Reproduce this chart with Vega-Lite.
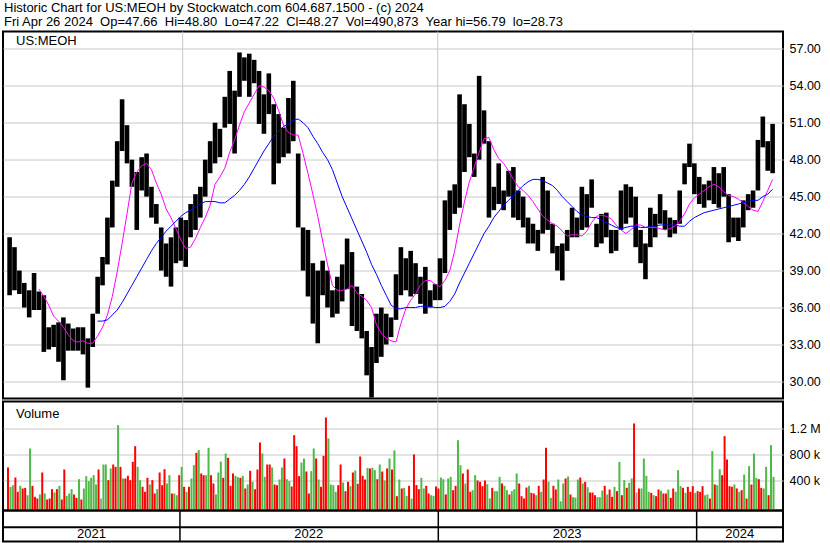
{
  "$schema": "https://vega.github.io/schema/vega-lite/v6.json",
  "padding": {"left": 1, "top": 1.5, "right": 0, "bottom": 0},
  "background": "white",
  "config": {
    "view": {"stroke": "black", "strokeWidth": 2},
    "font": "Liberation Sans",
    "axis": {"gridColor": "#c8c8c8", "gridWidth": 1, "domain": false, "ticks": false, "labelColor": "black", "labelFont": "Liberation Sans", "labelFontSize": 12.5, "title": null, "labelPadding": 6}
  },
  "title": {
    "text": ["Historic Chart for US:MEOH by Stockwatch.com 604.687.1500 - (c) 2024", "Fri Apr 26 2024\u00a0 Op=47.66\u00a0 Hi=48.80\u00a0 Lo=47.22\u00a0 Cl=48.27\u00a0 Vol=490,873\u00a0 Year hi=56.79\u00a0 lo=28.73"],
    "anchor": "start", "frame": "group", "baseline": "top", "fontSize": 13, "fontWeight": "normal", "font": "Liberation Sans", "lineHeight": 14, "offset": 1, "dx": 1, "color": "black"
  },
  "datasets": {
    "one": [{}],
    "bd": [{"date": "2022-01-01"}, {"date": "2023-01-01"}, {"date": "2024-01-01"}],
    "yr": [{"year": "2021", "mid": "2021-08-29"}, {"year": "2022", "mid": "2022-07-02"}, {"year": "2023", "mid": "2023-07-02"}, {"year": "2024", "mid": "2024-03-02"}],
    "w": [
      {"date":"2021-04-26","hi":41.7,"lo":37.0,"v1":600,"c1":"r","v2":300,"c2":"g"},
      {"date":"2021-05-03","hi":40.9,"lo":37.4,"v1":328,"c1":"g","v2":446,"c2":"r"},
      {"date":"2021-05-10","hi":39.0,"lo":37.1,"v1":226,"c1":"r","v2":318,"c2":"g"},
      {"date":"2021-05-17","hi":38.0,"lo":36.0,"v1":277,"c1":"r","v2":287,"c2":"r"},
      {"date":"2021-05-24","hi":37.4,"lo":35.2,"v1":174,"c1":"g","v2":892,"c2":"g"},
      {"date":"2021-05-31","hi":38.8,"lo":35.8,"v1":318,"c1":"r","v2":149,"c2":"r"},
      {"date":"2021-06-07","hi":37.3,"lo":35.8,"v1":123,"c1":"r","v2":185,"c2":"g","ma1":37.5},
      {"date":"2021-06-14","hi":37.0,"lo":32.4,"v1":523,"c1":"r","v2":200,"c2":"g","ma1":36.9},
      {"date":"2021-06-21","hi":34.4,"lo":32.6,"v1":108,"c1":"r","v2":123,"c2":"r","ma1":36.2},
      {"date":"2021-06-28","hi":34.6,"lo":32.8,"v1":267,"c1":"r","v2":215,"c2":"g","ma1":35.3},
      {"date":"2021-07-05","hi":34.8,"lo":31.6,"v1":267,"c1":"r","v2":318,"c2":"g","ma1":34.9},
      {"date":"2021-07-12","hi":35.2,"lo":30.1,"v1":108,"c1":"r","v2":569,"c2":"r","ma1":34.4},
      {"date":"2021-07-19","hi":34.7,"lo":32.5,"v1":164,"c1":"g","v2":200,"c2":"g","ma1":33.8},
      {"date":"2021-07-26","hi":34.3,"lo":32.5,"v1":267,"c1":"g","v2":185,"c2":"r","ma1":33.3},
      {"date":"2021-08-02","hi":34.4,"lo":32.5,"v1":133,"c1":"r","v2":420,"c2":"g","ma1":33.2},
      {"date":"2021-08-09","hi":34.4,"lo":32.2,"v1":108,"c1":"r","v2":277,"c2":"g","ma1":33.3},
      {"date":"2021-08-16","hi":33.5,"lo":29.5,"v1":467,"c1":"g","v2":390,"c2":"g","ma1":33.1},
      {"date":"2021-08-23","hi":35.5,"lo":32.8,"v1":441,"c1":"g","v2":482,"c2":"g","ma1":33.1},
      {"date":"2021-08-30","hi":38.5,"lo":35.5,"v1":338,"c1":"g","v2":569,"c2":"r","ma1":33.7,"ma2":34.9},
      {"date":"2021-09-06","hi":40.1,"lo":37.8,"v1":123,"c1":"n","v2":646,"c2":"g","ma1":34.4,"ma2":34.9},
      {"date":"2021-09-13","hi":43.3,"lo":39.5,"v1":646,"c1":"g","v2":405,"c2":"r","ma1":35.4,"ma2":35.0},
      {"date":"2021-09-20","hi":46.3,"lo":42.5,"v1":585,"c1":"g","v2":646,"c2":"r","ma1":36.9,"ma2":35.4},
      {"date":"2021-09-27","hi":49.5,"lo":45.8,"v1":610,"c1":"r","v2":1251,"c2":"g","ma1":38.9,"ma2":35.8},
      {"date":"2021-10-04","hi":52.9,"lo":48.7,"v1":610,"c1":"r","v2":431,"c2":"g","ma1":41.2,"ma2":36.4},
      {"date":"2021-10-11","hi":50.8,"lo":47.7,"v1":431,"c1":"r","v2":472,"c2":"r","ma1":43.6,"ma2":37.1},
      {"date":"2021-10-18","hi":48.0,"lo":45.8,"v1":405,"c1":"r","v2":687,"c2":"r","ma1":46.1,"ma2":37.8},
      {"date":"2021-10-25","hi":47.0,"lo":42.3,"v1":928,"c1":"r","v2":610,"c2":"g","ma1":47.0,"ma2":38.5},
      {"date":"2021-11-01","hi":48.2,"lo":45.5,"v1":405,"c1":"g","v2":303,"c2":"r","ma1":47.5,"ma2":39.2},
      {"date":"2021-11-08","hi":48.5,"lo":45.0,"v1":226,"c1":"r","v2":441,"c2":"r","ma1":47.7,"ma2":39.9},
      {"date":"2021-11-15","hi":45.8,"lo":43.3,"v1":338,"c1":"g","v2":405,"c2":"r","ma1":47.2,"ma2":40.6},
      {"date":"2021-11-22","hi":44.4,"lo":42.8,"v1":200,"c1":"r","v2":267,"c2":"g","ma1":46.1,"ma2":41.2},
      {"date":"2021-11-29","hi":42.5,"lo":39.0,"v1":523,"c1":"r","v2":328,"c2":"r","ma1":45.2,"ma2":41.7},
      {"date":"2021-12-06","hi":41.2,"lo":38.5,"v1":574,"c1":"r","v2":354,"c2":"g","ma1":44.0,"ma2":42.2},
      {"date":"2021-12-13","hi":41.7,"lo":37.7,"v1":482,"c1":"g","v2":200,"c2":"r","ma1":43.3,"ma2":42.6},
      {"date":"2021-12-20","hi":42.5,"lo":39.6,"v1":200,"c1":"g","v2":174,"c2":"g","ma1":42.4,"ma2":43.0},
      {"date":"2021-12-27","hi":43.3,"lo":39.8,"v1":482,"c1":"r","v2":610,"c2":"g","ma1":41.5,"ma2":43.4},
      {"date":"2022-01-03","hi":43.1,"lo":39.3,"v1":303,"c1":"r","v2":226,"c2":"g","ma1":40.8,"ma2":43.7},
      {"date":"2022-01-10","hi":44.4,"lo":41.7,"v1":303,"c1":"r","v2":431,"c2":"g","ma1":40.9,"ma2":43.9},
      {"date":"2022-01-17","hi":45.2,"lo":42.3,"v1":636,"c1":"g","v2":826,"c2":"r","ma1":41.6,"ma2":44.2},
      {"date":"2022-01-24","hi":45.8,"lo":43.3,"v1":867,"c1":"g","v2":508,"c2":"r","ma1":42.5,"ma2":44.4},
      {"date":"2022-01-31","hi":48.0,"lo":45.0,"v1":482,"c1":"r","v2":482,"c2":"g","ma1":43.3,"ma2":44.6},
      {"date":"2022-02-07","hi":49.5,"lo":46.9,"v1":903,"c1":"g","v2":482,"c2":"r","ma1":44.3,"ma2":44.6},
      {"date":"2022-02-14","hi":51.0,"lo":47.7,"v1":354,"c1":"r","v2":185,"c2":"g","ma1":46.0,"ma2":44.6},
      {"date":"2022-02-21","hi":50.5,"lo":48.2,"v1":523,"c1":"g","v2":692,"c2":"g","ma1":46.6,"ma2":44.5},
      {"date":"2022-02-28","hi":53.1,"lo":50.6,"v1":441,"c1":"r","v2":815,"c2":"g","ma1":47.3,"ma2":44.5},
      {"date":"2022-03-07","hi":55.2,"lo":50.9,"v1":749,"c1":"r","v2":318,"c2":"r","ma1":48.6,"ma2":44.8},
      {"date":"2022-03-14","hi":53.6,"lo":48.5,"v1":508,"c1":"r","v2":472,"c2":"g","ma1":49.6,"ma2":45.1},
      {"date":"2022-03-21","hi":56.7,"lo":53.1,"v1":451,"c1":"g","v2":441,"c2":"r","ma1":50.8,"ma2":45.5},
      {"date":"2022-03-28","hi":56.3,"lo":54.4,"v1":472,"c1":"g","v2":277,"c2":"r","ma1":51.9,"ma2":46.0},
      {"date":"2022-04-04","hi":56.6,"lo":53.1,"v1":338,"c1":"g","v2":549,"c2":"r","ma1":52.6,"ma2":46.6},
      {"date":"2022-04-11","hi":56.1,"lo":54.2,"v1":380,"c1":"g","v2":267,"c2":"r","ma1":53.3,"ma2":47.3},
      {"date":"2022-04-18","hi":55.2,"lo":50.9,"v1":569,"c1":"r","v2":985,"c2":"r","ma1":54.0,"ma2":48.0},
      {"date":"2022-04-25","hi":53.3,"lo":50.1,"v1":815,"c1":"g","v2":456,"c2":"g","ma1":53.9,"ma2":48.7},
      {"date":"2022-05-02","hi":55.0,"lo":51.7,"v1":646,"c1":"r","v2":646,"c2":"r","ma1":53.6,"ma2":49.3},
      {"date":"2022-05-09","hi":52.5,"lo":46.0,"v1":600,"c1":"g","v2":338,"c2":"r","ma1":53.0,"ma2":49.9},
      {"date":"2022-05-16","hi":51.7,"lo":47.7,"v1":328,"c1":"r","v2":415,"c2":"g","ma1":52.0,"ma2":50.3},
      {"date":"2022-05-23","hi":50.6,"lo":48.2,"v1":600,"c1":"g","v2":738,"c2":"r","ma1":50.8,"ma2":50.7},
      {"date":"2022-05-30","hi":53.0,"lo":48.5,"v1":420,"c1":"g","v2":390,"c2":"g","ma1":50.2,"ma2":50.9},
      {"date":"2022-06-06","hi":54.4,"lo":49.5,"v1":308,"c1":"r","v2":1097,"c2":"r","ma1":50.0,"ma2":51.2},
      {"date":"2022-06-13","hi":48.5,"lo":42.5,"v1":928,"c1":"r","v2":467,"c2":"r","ma1":50.0,"ma2":51.3},
      {"date":"2022-06-20","hi":42.5,"lo":39.0,"v1":677,"c1":"g","v2":738,"c2":"g","ma1":48.5,"ma2":51.0},
      {"date":"2022-06-27","hi":42.3,"lo":36.9,"v1":538,"c1":"r","v2":200,"c2":"r","ma1":46.9,"ma2":50.6},
      {"date":"2022-07-04","hi":39.6,"lo":34.7,"v1":544,"c1":"g","v2":892,"c2":"g","ma1":45.2,"ma2":49.9},
      {"date":"2022-07-11","hi":39.0,"lo":33.1,"v1":738,"c1":"r","v2":415,"c2":"g","ma1":43.4,"ma2":49.3},
      {"date":"2022-07-18","hi":39.8,"lo":37.0,"v1":303,"c1":"r","v2":779,"c2":"r","ma1":41.4,"ma2":48.6},
      {"date":"2022-07-25","hi":39.0,"lo":36.0,"v1":1369,"c1":"r","v2":1046,"c2":"g","ma1":39.5,"ma2":48.0},
      {"date":"2022-08-01","hi":37.4,"lo":35.2,"v1":338,"c1":"g","v2":328,"c2":"g","ma1":37.8,"ma2":47.2},
      {"date":"2022-08-08","hi":38.5,"lo":35.5,"v1":226,"c1":"g","v2":328,"c2":"r","ma1":37.4,"ma2":46.1},
      {"date":"2022-08-15","hi":39.5,"lo":36.5,"v1":646,"c1":"r","v2":369,"c2":"g","ma1":37.4,"ma2":45.0},
      {"date":"2022-08-22","hi":41.6,"lo":37.5,"v1":236,"c1":"r","v2":380,"c2":"r","ma1":37.5,"ma2":44.1},
      {"date":"2022-08-29","hi":40.5,"lo":34.5,"v1":313,"c1":"g","v2":523,"c2":"r","ma1":37.8,"ma2":43.2},
      {"date":"2022-09-05","hi":37.7,"lo":34.1,"v1":554,"c1":"g","v2":349,"c2":"r","ma1":37.2,"ma2":42.3},
      {"date":"2022-09-12","hi":37.1,"lo":33.5,"v1":769,"c1":"r","v2":472,"c2":"r","ma1":36.9,"ma2":41.4},
      {"date":"2022-09-19","hi":34.1,"lo":30.5,"v1":415,"c1":"r","v2":595,"c2":"g","ma1":36.6,"ma2":40.5},
      {"date":"2022-09-26","hi":32.8,"lo":28.7,"v1":585,"c1":"r","v2":595,"c2":"g","ma1":36.0,"ma2":39.5},
      {"date":"2022-10-03","hi":35.5,"lo":31.5,"v1":559,"c1":"g","v2":420,"c2":"r","ma1":34.6,"ma2":38.7},
      {"date":"2022-10-10","hi":36.0,"lo":32.0,"v1":646,"c1":"g","v2":538,"c2":"r","ma1":33.9,"ma2":37.8},
      {"date":"2022-10-17","hi":35.5,"lo":33.0,"v1":400,"c1":"g","v2":585,"c2":"r","ma1":33.5,"ma2":37.0},
      {"date":"2022-10-24","hi":35.2,"lo":33.6,"v1":738,"c1":"g","v2":569,"c2":"r","ma1":33.3,"ma2":36.2},
      {"date":"2022-10-31","hi":38.7,"lo":35.0,"v1":862,"c1":"g","v2":159,"c2":"r","ma1":33.2,"ma2":35.9},
      {"date":"2022-11-07","hi":40.9,"lo":37.0,"v1":415,"c1":"g","v2":277,"c2":"r","ma1":34.7,"ma2":35.9},
      {"date":"2022-11-14","hi":40.0,"lo":37.4,"v1":287,"c1":"g","v2":164,"c2":"g","ma1":35.9,"ma2":36.0},
      {"date":"2022-11-21","hi":40.6,"lo":36.9,"v1":318,"c1":"r","v2":120,"c2":"g","ma1":36.6,"ma2":36.0},
      {"date":"2022-11-28","hi":39.6,"lo":37.1,"v1":800,"c1":"r","v2":330,"c2":"r","ma1":37.1,"ma2":36.0},
      {"date":"2022-12-05","hi":38.5,"lo":36.3,"v1":267,"c1":"r","v2":441,"c2":"g","ma1":37.8,"ma2":36.1},
      {"date":"2022-12-12","hi":39.3,"lo":35.5,"v1":277,"c1":"g","v2":318,"c2":"r","ma1":38.2,"ma2":36.1},
      {"date":"2022-12-19","hi":37.4,"lo":36.0,"v1":200,"c1":"r","v2":174,"c2":"g","ma1":38.2,"ma2":36.1},
      {"date":"2022-12-26","hi":37.9,"lo":36.6,"v1":164,"c1":"g","v2":308,"c2":"r","ma1":37.9,"ma2":36.0},
      {"date":"2023-01-02","hi":40.0,"lo":36.6,"v1":277,"c1":"r","v2":446,"c2":"g","ma1":37.7,"ma2":36.0},
      {"date":"2023-01-09","hi":44.7,"lo":38.8,"v1":420,"c1":"g","v2":185,"c2":"r","ma1":38.2,"ma2":36.1},
      {"date":"2023-01-16","hi":45.5,"lo":42.3,"v1":431,"c1":"g","v2":456,"c2":"g","ma1":39.0,"ma2":36.5},
      {"date":"2023-01-23","hi":46.0,"lo":43.6,"v1":251,"c1":"r","v2":318,"c2":"r","ma1":40.6,"ma2":37.1},
      {"date":"2023-01-30","hi":53.3,"lo":44.1,"v1":1020,"c1":"g","v2":636,"c2":"g","ma1":42.7,"ma2":38.0},
      {"date":"2023-02-06","hi":52.5,"lo":47.0,"v1":508,"c1":"r","v2":354,"c2":"g","ma1":44.6,"ma2":38.8},
      {"date":"2023-02-13","hi":50.9,"lo":48.2,"v1":569,"c1":"r","v2":226,"c2":"r","ma1":46.2,"ma2":39.6},
      {"date":"2023-02-20","hi":48.5,"lo":46.6,"v1":251,"c1":"g","v2":482,"c2":"g","ma1":47.4,"ma2":40.4},
      {"date":"2023-02-27","hi":54.8,"lo":48.0,"v1":400,"c1":"r","v2":380,"c2":"r","ma1":48.6,"ma2":41.2},
      {"date":"2023-03-06","hi":52.0,"lo":49.3,"v1":313,"c1":"r","v2":400,"c2":"r","ma1":49.7,"ma2":42.0},
      {"date":"2023-03-13","hi":49.5,"lo":43.3,"v1":344,"c1":"g","v2":123,"c2":"g","ma1":49.8,"ma2":42.6},
      {"date":"2023-03-20","hi":45.8,"lo":43.9,"v1":287,"c1":"r","v2":236,"c2":"g","ma1":48.8,"ma2":43.3},
      {"date":"2023-03-27","hi":47.7,"lo":44.4,"v1":236,"c1":"g","v2":456,"c2":"g","ma1":48.1,"ma2":43.8},
      {"date":"2023-04-03","hi":45.5,"lo":43.9,"v1":354,"c1":"r","v2":318,"c2":"g","ma1":47.7,"ma2":44.3},
      {"date":"2023-04-10","hi":47.1,"lo":45.0,"v1":251,"c1":"g","v2":185,"c2":"r","ma1":47.1,"ma2":44.7},
      {"date":"2023-04-17","hi":47.4,"lo":43.3,"v1":236,"c1":"g","v2":267,"c2":"g","ma1":46.4,"ma2":45.1},
      {"date":"2023-04-24","hi":45.5,"lo":43.1,"v1":508,"c1":"g","v2":354,"c2":"r","ma1":45.8,"ma2":45.5},
      {"date":"2023-05-01","hi":45.0,"lo":42.5,"v1":159,"c1":"r","v2":123,"c2":"r","ma1":45.5,"ma2":45.9},
      {"date":"2023-05-08","hi":43.3,"lo":41.2,"v1":292,"c1":"r","v2":318,"c2":"g","ma1":45.1,"ma2":46.2},
      {"date":"2023-05-15","hi":42.8,"lo":41.2,"v1":210,"c1":"r","v2":200,"c2":"r","ma1":44.6,"ma2":46.4},
      {"date":"2023-05-22","hi":42.3,"lo":40.6,"v1":174,"c1":"g","v2":318,"c2":"r","ma1":44.0,"ma2":46.4},
      {"date":"2023-05-29","hi":46.6,"lo":42.0,"v1":226,"c1":"g","v2":415,"c2":"r","ma1":43.4,"ma2":46.3},
      {"date":"2023-06-05","hi":45.5,"lo":42.3,"v1":903,"c1":"r","v2":380,"c2":"g","ma1":43.1,"ma2":46.1},
      {"date":"2023-06-12","hi":42.8,"lo":40.4,"v1":133,"c1":"g","v2":318,"c2":"r","ma1":42.8,"ma2":45.9},
      {"date":"2023-06-19","hi":41.0,"lo":39.0,"v1":262,"c1":"r","v2":415,"c2":"g","ma1":42.6,"ma2":45.5},
      {"date":"2023-06-26","hi":41.2,"lo":38.2,"v1":80,"c1":"g","v2":354,"c2":"g","ma1":42.2,"ma2":45.0},
      {"date":"2023-07-03","hi":42.3,"lo":40.6,"v1":431,"c1":"r","v2":462,"c2":"g","ma1":41.8,"ma2":44.6},
      {"date":"2023-07-10","hi":44.1,"lo":41.7,"v1":185,"c1":"r","v2":144,"c2":"g","ma1":41.9,"ma2":44.2},
      {"date":"2023-07-17","hi":43.3,"lo":41.7,"v1":138,"c1":"g","v2":415,"c2":"g","ma1":41.9,"ma2":43.8},
      {"date":"2023-07-24","hi":45.8,"lo":42.3,"v1":446,"c1":"r","v2":354,"c2":"g","ma1":41.8,"ma2":43.5},
      {"date":"2023-07-31","hi":45.2,"lo":42.5,"v1":380,"c1":"r","v2":297,"c2":"g","ma1":42.2,"ma2":43.4},
      {"date":"2023-08-07","hi":46.4,"lo":44.1,"v1":215,"c1":"r","v2":215,"c2":"r","ma1":42.9,"ma2":43.3},
      {"date":"2023-08-14","hi":42.8,"lo":40.9,"v1":174,"c1":"r","v2":144,"c2":"g","ma1":43.4,"ma2":43.3},
      {"date":"2023-08-21","hi":43.6,"lo":41.2,"v1":144,"c1":"g","v2":246,"c2":"g","ma1":43.5,"ma2":43.1},
      {"date":"2023-08-28","hi":43.7,"lo":41.7,"v1":318,"c1":"r","v2":185,"c2":"g","ma1":43.4,"ma2":42.9},
      {"date":"2023-09-04","hi":42.3,"lo":40.4,"v1":262,"c1":"r","v2":149,"c2":"r","ma1":43.2,"ma2":42.7},
      {"date":"2023-09-11","hi":42.3,"lo":40.6,"v1":303,"c1":"g","v2":236,"c2":"r","ma1":42.7,"ma2":42.5},
      {"date":"2023-09-18","hi":45.5,"lo":42.3,"v1":687,"c1":"g","v2":174,"c2":"r","ma1":42.3,"ma2":42.4},
      {"date":"2023-09-25","hi":46.0,"lo":42.8,"v1":405,"c1":"g","v2":287,"c2":"r","ma1":42.0,"ma2":42.5},
      {"date":"2023-10-02","hi":45.8,"lo":43.3,"v1":364,"c1":"g","v2":431,"c2":"g","ma1":42.3,"ma2":42.6},
      {"date":"2023-10-09","hi":45.0,"lo":40.9,"v1":1277,"c1":"r","v2":215,"c2":"n","ma1":42.7,"ma2":42.6},
      {"date":"2023-10-16","hi":42.3,"lo":39.6,"v1":277,"c1":"r","v2":277,"c2":"g","ma1":42.7,"ma2":42.5},
      {"date":"2023-10-23","hi":41.2,"lo":38.3,"v1":738,"c1":"g","v2":472,"c2":"g","ma1":42.5,"ma2":42.5},
      {"date":"2023-10-30","hi":44.1,"lo":40.9,"v1":226,"c1":"g","v2":210,"c2":"r","ma1":42.5,"ma2":42.6},
      {"date":"2023-11-06","hi":43.6,"lo":41.7,"v1":174,"c1":"g","v2":159,"c2":"r","ma1":42.5,"ma2":42.6},
      {"date":"2023-11-13","hi":45.2,"lo":42.8,"v1":262,"c1":"r","v2":241,"c2":"g","ma1":42.4,"ma2":42.7},
      {"date":"2023-11-20","hi":43.9,"lo":42.3,"v1":200,"c1":"r","v2":200,"c2":"r","ma1":42.3,"ma2":42.7},
      {"date":"2023-11-27","hi":43.3,"lo":41.7,"v1":262,"c1":"g","v2":133,"c2":"r","ma1":42.4,"ma2":42.7},
      {"date":"2023-12-04","hi":43.1,"lo":42.0,"v1":277,"c1":"r","v2":226,"c2":"g","ma1":42.6,"ma2":42.7},
      {"date":"2023-12-11","hi":45.5,"lo":42.8,"v1":559,"c1":"g","v2":313,"c2":"g","ma1":43.0,"ma2":42.6},
      {"date":"2023-12-18","hi":47.7,"lo":46.0,"v1":287,"c1":"r","v2":210,"c2":"g","ma1":43.6,"ma2":42.6},
      {"date":"2023-12-25","hi":49.3,"lo":47.4,"v1":303,"c1":"r","v2":226,"c2":"r","ma1":44.4,"ma2":43.0},
      {"date":"2024-01-01","hi":47.7,"lo":45.2,"v1":313,"c1":"r","v2":210,"c2":"g","ma1":44.9,"ma2":43.3},
      {"date":"2024-01-08","hi":46.6,"lo":44.4,"v1":236,"c1":"r","v2":226,"c2":"r","ma1":45.2,"ma2":43.5},
      {"date":"2024-01-15","hi":46.0,"lo":44.1,"v1":313,"c1":"r","v2":174,"c2":"g","ma1":45.5,"ma2":43.7},
      {"date":"2024-01-22","hi":46.3,"lo":44.7,"v1":185,"c1":"g","v2":123,"c2":"r","ma1":45.8,"ma2":43.8},
      {"date":"2024-01-29","hi":47.4,"lo":44.4,"v1":851,"c1":"g","v2":338,"c2":"r","ma1":46.0,"ma2":43.9},
      {"date":"2024-02-05","hi":46.9,"lo":44.1,"v1":328,"c1":"g","v2":574,"c2":"g","ma1":45.8,"ma2":44.0},
      {"date":"2024-02-12","hi":47.4,"lo":45.0,"v1":482,"c1":"r","v2":1082,"c2":"r","ma1":45.4,"ma2":44.1},
      {"date":"2024-02-19","hi":45.2,"lo":41.3,"v1":723,"c1":"r","v2":313,"c2":"r","ma1":45.1,"ma2":44.2},
      {"date":"2024-02-26","hi":43.3,"lo":41.7,"v1":303,"c1":"r","v2":338,"c2":"g","ma1":45.0,"ma2":44.3},
      {"date":"2024-03-04","hi":43.3,"lo":41.4,"v1":277,"c1":"r","v2":226,"c2":"g","ma1":44.8,"ma2":44.4},
      {"date":"2024-03-11","hi":44.7,"lo":42.5,"v1":251,"c1":"r","v2":492,"c2":"g","ma1":44.5,"ma2":44.5},
      {"date":"2024-03-18","hi":45.2,"lo":43.9,"v1":123,"c1":"r","v2":621,"c2":"g","ma1":44.2,"ma2":44.6},
      {"date":"2024-03-25","hi":45.5,"lo":44.1,"v1":338,"c1":"r","v2":815,"c2":"g","ma1":43.9,"ma2":44.7},
      {"date":"2024-04-01","hi":49.6,"lo":45.5,"v1":441,"c1":"g","v2":420,"c2":"r","ma1":43.8,"ma2":44.7},
      {"date":"2024-04-08","hi":51.5,"lo":49.0,"v1":287,"c1":"r","v2":277,"c2":"g","ma1":44.6,"ma2":45.0},
      {"date":"2024-04-15","hi":49.5,"lo":47.1,"v1":610,"c1":"g","v2":174,"c2":"r","ma1":45.5,"ma2":45.2},
      {"date":"2024-04-22","hi":50.9,"lo":46.9,"v1":944,"c1":"g","v2":456,"c2":"g","ma1":46.4,"ma2":45.6}
    ]
  },
  "vconcat": [
    {
      "width": 780, "height": 367,
      "data": {"name": "w"},
      "layer": [
        {"data": {"name": "bd"}, "mark": {"type": "rule", "color": "#c8c8c8", "strokeWidth": 1},
         "encoding": {"x": {"field": "date", "type": "temporal", "axis": null, "scale": {"domain": [{"year": 2021, "month": 4, "date": 26, "utc": true}, {"year": 2024, "month": 5, "date": 2, "utc": true}]}}}},
        {"mark": {"type": "bar", "color": "black", "width": 4.6, "xOffset": 1.6},
         "encoding": {
           "x": {"field": "date", "type": "temporal", "axis": null},
           "y": {"field": "hi", "type": "quantitative", "scale": {"domain": [28.62, 58.4], "nice": false, "zero": false},
                 "axis": {"orient": "right", "values": [30, 31.5, 33, 34.5, 36, 37.5, 39, 40.5, 42, 43.5, 45, 46.5, 48, 49.5, 51, 52.5, 54, 55.5, 57], "format": ".2f", "grid": true, "labelOverlap": false}},
           "y2": {"field": "lo"}}},
        {"mark": {"type": "line", "color": "#ff00ff", "strokeWidth": 1, "xOffset": 1.6},
         "encoding": {"x": {"field": "date", "type": "temporal"}, "y": {"field": "ma1", "type": "quantitative"}}},
        {"mark": {"type": "line", "color": "#0000ff", "strokeWidth": 1, "xOffset": 1.6},
         "encoding": {"x": {"field": "date", "type": "temporal"}, "y": {"field": "ma2", "type": "quantitative"}}},
        {"data": {"name": "one"}, "mark": {"type": "text", "align": "left", "baseline": "middle", "dx": 8, "fontSize": 13, "fontWeight": "normal", "color": "black"},
         "encoding": {"x": {"datum": {"year": 2021, "month": 4, "date": 26, "utc": true}, "type": "temporal"}, "y": {"datum": 57.6, "type": "quantitative"}, "text": {"value": "US:MEOH"}}}
      ]
    },
    {
      "vconcat": [
        {
          "width": 780, "height": 109,
          "data": {"name": "w"},
          "layer": [
            {"data": {"name": "bd"}, "mark": {"type": "rule", "color": "#c8c8c8", "strokeWidth": 1},
             "encoding": {"x": {"field": "date", "type": "temporal", "axis": null, "scale": {"domain": [{"year": 2021, "month": 4, "date": 26, "utc": true}, {"year": 2024, "month": 5, "date": 2, "utc": true}]}}}},
            {"mark": {"type": "bar", "width": 2},
             "encoding": {
               "x": {"field": "date", "type": "temporal", "axis": null},
               "y": {"field": "v1", "type": "quantitative", "scale": {"domain": [-61.5, 1615], "nice": false, "zero": false},
                     "axis": {"orient": "right", "values": [400, 800, 1200], "grid": true, "labelExpr": "datum.value >= 1000 ? format(datum.value / 1000, '.1f') + ' M' : datum.value + ' k'"}},
               "y2": {"datum": -61.5},
               "color": {"field": "c1", "type": "nominal", "scale": {"domain": ["r", "g", "n"], "range": ["#ff0000", "#50b848", "#a0a0a0"]}, "legend": null}}},
            {"mark": {"type": "bar", "width": 2, "xOffset": 2.5},
             "encoding": {
               "x": {"field": "date", "type": "temporal"},
               "y": {"field": "v2", "type": "quantitative"},
               "y2": {"datum": -61.5},
               "color": {"field": "c2", "type": "nominal", "legend": null}}},
            {"data": {"name": "one"}, "mark": {"type": "text", "align": "left", "baseline": "middle", "dx": 8, "fontSize": 13, "fontWeight": "normal", "color": "black"},
             "encoding": {"x": {"datum": {"year": 2021, "month": 4, "date": 26, "utc": true}, "type": "temporal"}, "y": {"datum": 1430, "type": "quantitative"}, "text": {"value": "Volume"}}}
          ]
        },
        {
          "width": 780, "height": 31,
          "layer": [
            {"data": {"name": "bd"}, "mark": {"type": "rule", "color": "black", "strokeWidth": 1.5},
             "encoding": {"x": {"field": "date", "type": "temporal", "axis": null, "scale": {"domain": [{"year": 2021, "month": 4, "date": 26, "utc": true}, {"year": 2024, "month": 5, "date": 2, "utc": true}]}}}},
            {"data": {"name": "one"}, "mark": {"type": "rule", "color": "black", "strokeWidth": 2},
             "encoding": {"y": {"datum": 0.46, "type": "quantitative", "scale": {"domain": [0, 1], "nice": false}, "axis": null}}},
            {"data": {"name": "yr"}, "mark": {"type": "text", "fontSize": 13, "baseline": "middle", "align": "center", "color": "black"},
             "encoding": {"x": {"field": "mid", "type": "temporal"}, "y": {"datum": 0.23, "type": "quantitative"}, "text": {"field": "year", "type": "nominal"}}}
          ]
        }
      ],
      "spacing": 0,
      "bounds": "flush"
    }
  ],
  "spacing": 3,
  "bounds": "flush"
}
